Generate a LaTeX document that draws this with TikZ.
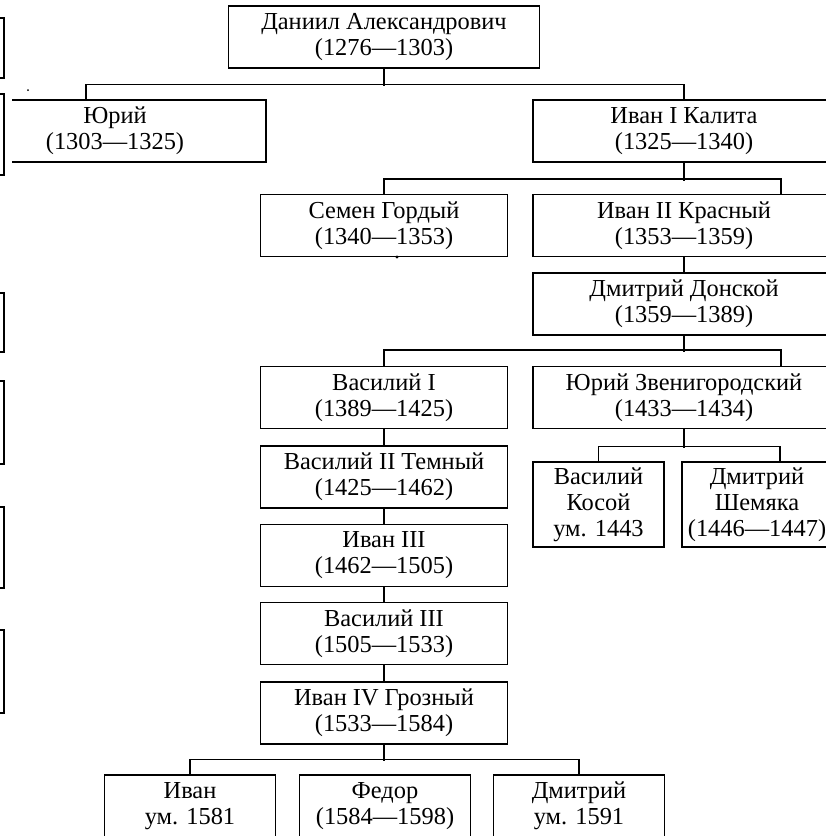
\documentclass[tikz,border=0pt]{standalone}
\usepackage{fontspec}
\setmainfont{Liberation Serif}
\begin{document}
\begin{tikzpicture}[x=1pt, y=-1pt, line width=1.1pt,
  person/.style={draw, align=center, inner sep=0pt, minimum height=62pt,
    font=\fontsize{24.4}{26}\selectfont},
  leftcol/.style={person, minimum width=247pt},
  rightcol/.style={person, minimum width=302pt},
  kid/.style={person, minimum width=171pt},
  speck/.style={fill=black}]
\useasboundingbox (0,0) rectangle (826,836);
\clip (0,0) rectangle (826,836);

% cut-off boxes at the left edge
\foreach \ya/\yb in {18/78, 94/175, 293/352, 381/464, 507/588, 630/713}
  \draw (0,\ya) -- (4,\ya) -- (4,\yb) -- (0,\yb);

% first generations
\node[person, minimum width=311pt] (daniil) at (384,37) {Даниил Александрович\\(1276—1303)};
\node[person, draw=none, minimum width=230pt] (yuri) at (115,131) {Юрий\\(1303—1325)};
\draw (12,100) -| (266,162) -- (12,162);
\node[rightcol] (ivan1) at (684,131) {Иван I Калита\\(1325—1340)};

\node[leftcol] (semen) at (384,225.5) {Семен Гордый\\(1340—1353)};
\node[rightcol] (ivan2) at (684,225.5) {Иван II Красный\\(1353—1359)};
\node[rightcol] (dmitrid) at (684,304) {Дмитрий Донской\\(1359—1389)};

% sons of Dmitri
\node[leftcol] (vasily1) at (384,397.5) {Василий I\\(1389—1425)};
\node[rightcol] (yurizv) at (684,397.5) {Юрий Звенигородский\\(1433—1434)};
\node[person, minimum width=131pt, minimum height=85pt] (kosoi) at (598.5,504.5) {Василий\\Косой\\ум. 1443};
\node[person, minimum width=150pt, minimum height=85pt] (shemyaka) at (757,504.5) {Дмитрий\\Шемяка\\(1446—1447)};

\node[leftcol] (vasily2) at (384,477) {Василий II Темный\\(1425—1462)};
\node[leftcol] (ivan3) at (384,555.5) {Иван III\\(1462—1505)};
\node[leftcol] (vasily3) at (384,633.5) {Василий III\\(1505—1533)};
\node[leftcol] (ivan4) at (384,713) {Иван IV Грозный\\(1533—1584)};

% sons of Ivan IV
\node[kid] (ivanjr) at (190,806) {Иван\\ум. 1581};
\node[kid] (fedor) at (385,806) {Федор\\(1584—1598)};
\node[kid] (dmitrijr) at (579,806) {Дмитрий\\ум. 1591};

% connectors
\draw (daniil.south) -- ++(0,17);
\draw ([xshift=-29pt]yuri.north) -- ++(0,-15) -| (ivan1.north);
\draw (ivan1.south) -- ++(0,18);
\draw (semen.north) -- ++(0,-15) -| ([xshift=97pt]ivan2.north);
\draw (ivan2) -- (dmitrid);
\draw (dmitrid.south) -- ++(0,16);
\draw (vasily1.north) -- ++(0,-16) -| ([xshift=97pt]yurizv.north);
\draw (yurizv.south) -- ++(0,19);
\draw (kosoi.north) -- ++(0,-15) -| ([xshift=23pt]shemyaka.north);
\draw (vasily1) -- (vasily2);
\draw (vasily2) -- (ivan3);
\draw (ivan3) -- (vasily3);
\draw (vasily3) -- (ivan4);
\draw (ivan4.south) -- ++(0,16);
\draw (ivanjr.north) -- ++(0,-15) -| (dmitrijr.north);

% specks of the scan
\fill[speck] (28,90) circle (1);
\fill[speck] (397,257) circle (1.6);
\end{tikzpicture}
\end{document}
